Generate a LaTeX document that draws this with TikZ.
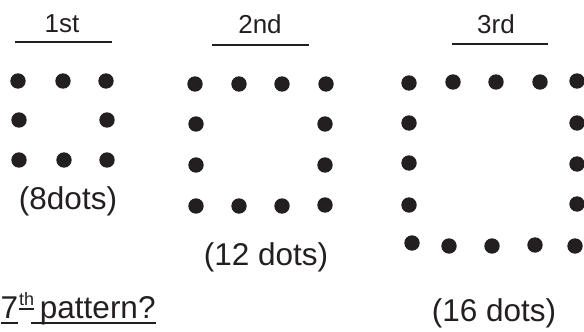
\documentclass[tikz,border=0pt]{standalone}
\usepackage{fontspec}
\setmainfont{Liberation Sans}
\usepackage{xcolor}
\usepackage{tikz}

\definecolor{ink}{HTML}{231F20}

\begin{document}
\begin{tikzpicture}[x=1pt,y=-1pt,every node/.style={inner sep=0pt,text=ink},
  head/.style={font=\fontsize{26}{30}\selectfont,anchor=base},
  count/.style={font=\fontsize{31.5}{36}\selectfont,anchor=base},
  bar/.style={draw=ink,line width=2pt},
  uline/.style={draw=ink,line width=1.8pt}]
\clip (0,0) rectangle (584,332);
% pattern headings
\node[head] (h1) at (62,32) {1st};
\node[head] (h2) at (260,34) {2nd};
\node[head] (h3) at (496,33) {3rd};
\draw[bar] (15,42) -- (112,42);
\draw[bar] (212,45) -- (309,45);
\draw[bar] (452,44) -- (548,44);
% dots
\foreach \x/\y in {18/81,63/81,106/81,19/120,107/120,19/160,64/160,107/160}
  \fill[ink] (\x,\y) circle (7.7pt);
\foreach \x/\y in {195/84,239/84,282/84,326/84,196/124,325/124,196/165,325/165,
  196/206,239/206,282/206,325/205}
  \fill[ink] (\x,\y) circle (7.7pt);
\foreach \x/\y in {409/83,453/82,496/82,540/82,577/81,409/123,577/123,409/163,577/164,
  409/205,577/204,412/243,449/246,492/246,535/245,575/246}
  \fill[ink] (\x,\y) circle (7.7pt);
% counts
\node[count] (c1) at (68,209) {(8dots)};
\node[count] (c2) at (266,265.5) {(12 dots)};
\node[count] (c3) at (494,321.5) {(16 dots)};
% question
\node[count,anchor=base west] (seven) at (0.5,318) {7};
\node[font=\fontsize{18}{20}\selectfont,anchor=base west] (th) at ([xshift=0.5pt]seven.east |- 0,305) {th};
\node[count,anchor=base west] (patt) at (31,318) {\ pattern?};
\draw[uline] ([yshift=-5pt]seven.base west) -- ([yshift=-5pt]seven.base east);
\draw[uline] ([yshift=-4pt]th.base west) -- ([yshift=-4pt]th.base east);
\draw[uline] ([yshift=-5pt]patt.base west) -- ([yshift=-5pt]patt.base east);
\end{tikzpicture}
\end{document}
